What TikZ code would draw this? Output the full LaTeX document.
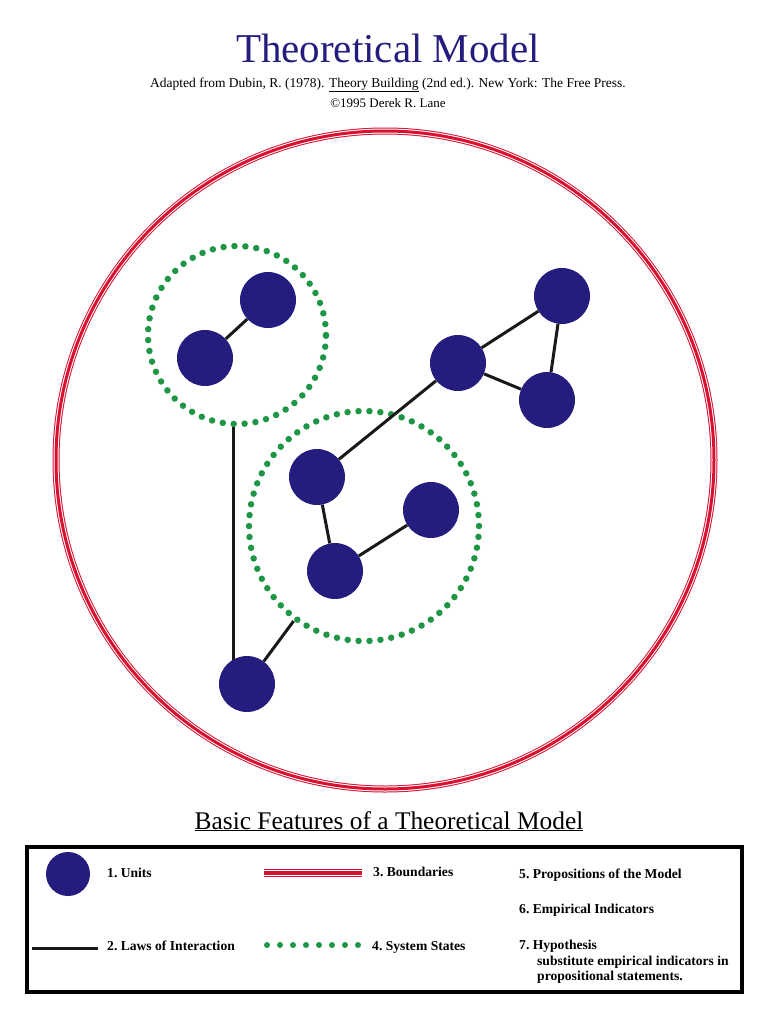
\documentclass[tikz,border=0pt]{standalone}
\usepackage{fontspec}
\setmainfont{Liberation Serif}
\usepackage{xcolor}
\usepackage{tikz}
\usetikzlibrary{backgrounds}

\definecolor{unitblue}{RGB}{36,29,125}
\definecolor{boundred}{RGB}{214,18,48}
\definecolor{stategreen}{RGB}{30,150,70}

\begin{document}
\begin{tikzpicture}[x=1pt, y=-1pt,
    unit/.style={circle, fill=unitblue, inner sep=0pt, minimum size=56pt},
    law/.style={draw=black!90, line width=3pt},
    sysstate/.style={circle, draw=stategreen, line width=6.5pt, line cap=round, dash pattern=on 0pt off 10.95pt, inner sep=0pt},
    lbl/.style={anchor=base west, inner sep=0pt, font=\bfseries\fontsize{13.6}{15}\selectfont}]
    \useasboundingbox (0,0) rectangle (771,1021);

    \node[anchor=base, text=unitblue, font=\fontsize{41}{41}\selectfont] (title) at (388,62) {Theoretical Model};
    \node[anchor=base, font=\fontsize{13.5}{15}\selectfont] (source) at (388,87) {Adapted from Dubin, R. (1978). \underline{Theory Building} (2nd ed.). New York: The Free Press.};
    \node[anchor=base, font=\fontsize{13}{15}\selectfont] (copyright) at (388,107) {\textcopyright1995 Derek R. Lane};

    \foreach \w/\c in {7/boundred, 5/white, 3/boundred}
    \draw[line width=\w pt, draw=\c] (385,460) circle (329);

    \node[sysstate, minimum size=178pt] (s1) at (237,335) {};
    \node[sysstate, minimum size=230pt] (s2) at (364,526) {};

    \foreach \n/\x/\y in {u1/268/300, u2/205/358, u3/458/363, u4/562/296, u5/547/400, u6/317/477, u7/431/510, u8/335/571, u9/247/684}
    \node[unit] (\n) at (\x,\y) {};

    \foreach \p/\q in {u1/u2, u3/u4, u3/u5, u4/u5, u3/u6, u6/u8, u7/u8, u9/s2}
    \draw[law] (\p) -- (\q);
    \begin{pgfonlayer}{background}
        \draw[law] (s1.-92) -- (s1.-92 |- u9.center);
    \end{pgfonlayer}

    \node[anchor=base, font=\fontsize{25.4}{26}\selectfont] (features) at (389,829) {\underline{Basic Features of a Theoretical Model}};

    \draw[line width=4pt] (27,847) rectangle (742,992);

    \node[unit, minimum size=44pt] (keyunit) at (68,874) {};
    \node[lbl] (kunits) at (107,877) {1.\ Units};

    \coordinate (lawa) at (32,948);
    \coordinate (lawb) at (98,948);
    \draw[law] (lawa) -- (lawb);
    \node[lbl] (klaws) at (107,950) {2.\ Laws of Interaction};

    \foreach \w/\c in {8/boundred, 6/white, 4/boundred}
    \draw[line width=\w pt, draw=\c] (264,873) -- (362,873);
    \node[lbl] (kbound) at (373,876) {3.\ Boundaries};

    \foreach \i in {0,...,7}
    \fill[stategreen] (267+13*\i,945) circle (3);
    \node[lbl] (kstates) at (372,950) {4.\ System States};

    \node[lbl] (kprop) at (519,878) {5.\ Propositions of the Model};
    \node[lbl] (kemp) at (519,913) {6.\ Empirical Indicators};
    \node[lbl] (khyp) at (519,949) {7.\ Hypothesis};
    \node[lbl] (khyp1) at (537,965) {substitute empirical indicators in};
    \node[lbl] (khyp2) at (537,980) {propositional statements.};
\end{tikzpicture}
\end{document}
